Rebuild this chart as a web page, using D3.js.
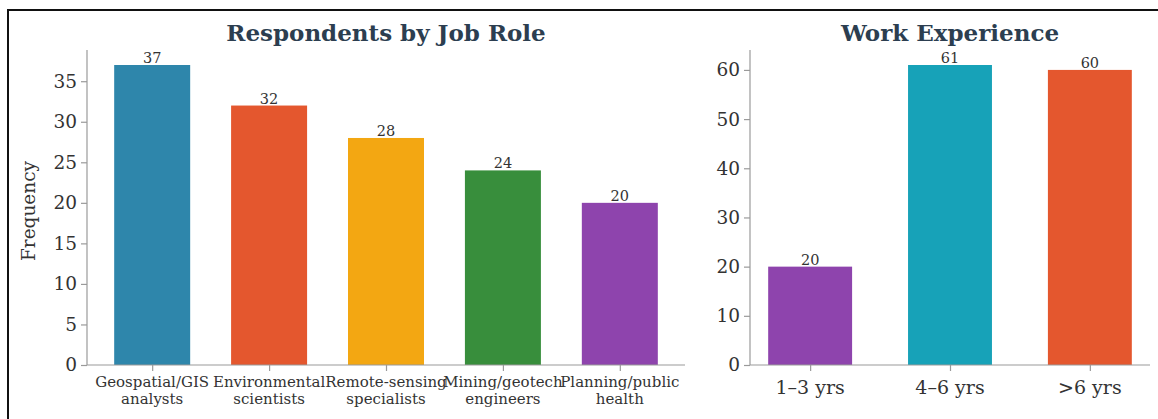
<!DOCTYPE html>
<html>
<head>
<meta charset="utf-8">
<script src="https://cdn.jsdelivr.net/npm/d3@7"></script>
<style>
  html, body { margin: 0; padding: 0; background: #fff; }
  svg { display: block; font-family: "DejaVu Serif", serif; }
</style>
</head>
<body>
<svg id="chart" width="1158" height="419"></svg>
<script>
// Respondents by job role
const roleLabels = [
  ["Geospatial/GIS", "analysts"],
  ["Environmental", "scientists"],
  ["Remote-sensing", "specialists"],
  ["Mining/geotech", "engineers"],
  ["Planning/public", "health"]
];
const roleCounts = [37, 32, 28, 24, 20];
const roleColors = ["#2E86AB", "#E4572E", "#F3A712", "#388E3C", "#8E44AD"];
const roleTicks = [0, 5, 10, 15, 20, 25, 30, 35];

// Work experience bands
const expLabels = ["1–3 yrs", "4–6 yrs", ">6 yrs"];
const expCounts = [20, 61, 60];
const expColors = ["#8E44AD", "#17A2B8", "#E4572E"];
const expTicks = [0, 10, 20, 30, 40, 50, 60];

const svg = d3.select("#chart");

// figure frame
svg.append("rect")
  .attr("x", 8).attr("y", 10)
  .attr("width", 1300).attr("height", 600)
  .attr("fill", "none").attr("stroke", "#111").attr("stroke-width", 2);

const spineColor = "#9a9a9a";
const textColor = "#333";

function barPanel(opts) {
  const { left, right, top, bottom, labels, values, colors, ticks, width, title, tickFont, xFont } = opts;
  const n = values.length;
  const pad = 0.05 * (n - 1 + width);
  const x = d3.scaleLinear()
    .domain([-width / 2 - pad, n - 1 + width / 2 + pad])
    .range([left, right]);
  const y = d3.scaleLinear()
    .domain([0, d3.max(values) * 1.05])
    .range([bottom, top]);

  const g = svg.append("g");

  // bars
  g.selectAll("rect.bar").data(values).enter().append("rect")
    .attr("class", "bar")
    .attr("x", (d, i) => x(i - width / 2))
    .attr("width", (d, i) => x(i + width / 2) - x(i - width / 2))
    .attr("y", d => y(d))
    .attr("height", d => y(0) - y(d))
    .attr("fill", (d, i) => colors[i]);

  // value labels
  g.selectAll("text.val").data(values).enter().append("text")
    .attr("class", "val")
    .attr("x", (d, i) => x(i))
    .attr("y", d => y(d) - 2)
    .attr("text-anchor", "middle")
    .attr("font-size", 14.5)
    .attr("fill", textColor)
    .text(d => d);

  // y axis
  const yAxis = g.append("g")
    .attr("transform", `translate(${left},0)`)
    .call(d3.axisLeft(y).tickValues(ticks).tickSize(6).tickPadding(4));
  yAxis.select(".domain").attr("stroke", spineColor).attr("stroke-width", 1.2)
    .attr("d", `M0,${top}V${bottom}`);
  yAxis.selectAll(".tick line").attr("stroke", spineColor).attr("stroke-width", 1.2);
  yAxis.selectAll(".tick text")
    .attr("font-family", "DejaVu Serif").attr("font-size", tickFont).attr("fill", textColor);

  // x axis
  const xAxis = g.append("g")
    .attr("transform", `translate(0,${bottom})`)
    .call(d3.axisBottom(x).tickValues(d3.range(n)).tickSize(6).tickFormat(() => ""));
  xAxis.select(".domain").attr("stroke", spineColor).attr("stroke-width", 1.2)
    .attr("d", `M${left},0H${right}`);
  xAxis.selectAll(".tick line").attr("stroke", spineColor).attr("stroke-width", 1.2);

  // category labels (possibly two lines)
  labels.forEach((lab, i) => {
    const lines = Array.isArray(lab) ? lab : [lab];
    const t = g.append("text")
      .attr("x", x(i))
      .attr("y", bottom + opts.xLabelOffset)
      .attr("text-anchor", "middle")
      .attr("font-size", xFont)
      .attr("fill", textColor);
    lines.forEach((s, k) => {
      t.append("tspan").attr("x", x(i)).attr("dy", k === 0 ? 0 : xFont * 1.15).text(s);
    });
  });

  // title
  g.append("text")
    .attr("x", (left + right) / 2)
    .attr("y", 41)
    .attr("text-anchor", "middle")
    .attr("font-size", 23)
    .attr("font-weight", "bold")
    .attr("fill", "#2C3E50")
    .text(title);

  return g;
}

barPanel({
  left: 87, right: 685, top: 50, bottom: 365,
  labels: roleLabels, values: roleCounts, colors: roleColors, ticks: roleTicks,
  width: 0.65, title: "Respondents by Job Role", tickFont: 18.5, xFont: 15, xLabelOffset: 22
});

barPanel({
  left: 750, right: 1150, top: 50, bottom: 365,
  labels: expLabels, values: expCounts, colors: expColors, ticks: expTicks,
  width: 0.6, title: "Work Experience", tickFont: 18.5, xFont: 19, xLabelOffset: 29
});

// y-axis title
svg.append("text")
  .attr("transform", "translate(35,211) rotate(-90)")
  .attr("text-anchor", "middle")
  .attr("font-size", 18.5)
  .attr("fill", textColor)
  .text("Frequency");
</script>
</body>
</html>
